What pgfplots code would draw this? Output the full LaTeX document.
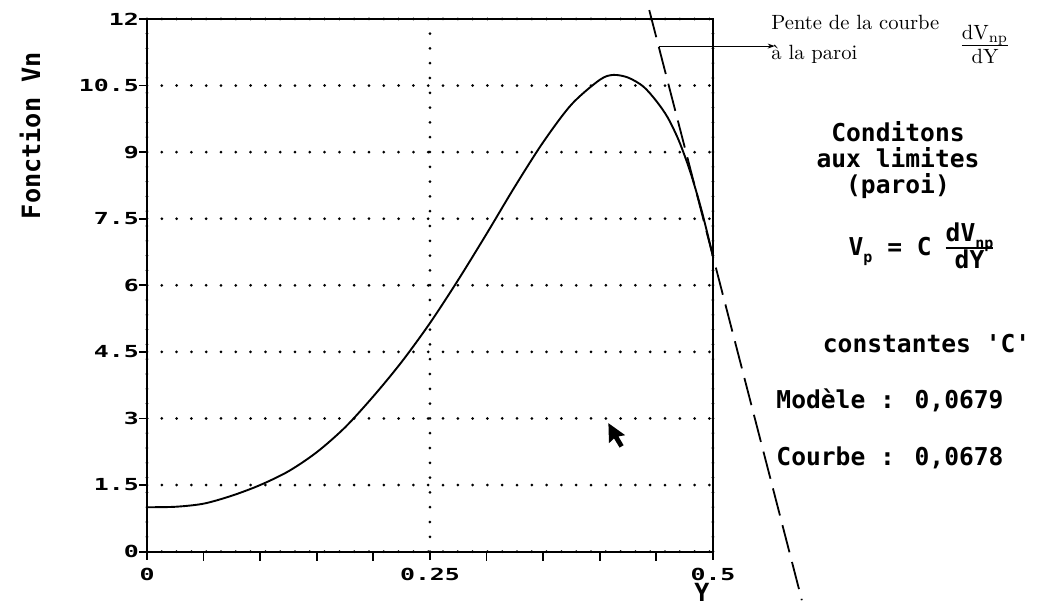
\documentclass[border=0pt]{standalone}
\usepackage{fontspec}
\usepackage{pgfplots}
\pgfplotsset{compat=1.18}
\usetikzlibrary{arrows.meta}
\newfontfamily\mono[Ligatures=TeXOff]{DejaVu Sans Mono}
\newcommand\ticfont{\mono\bfseries\fontsize{8.3}{9}\selectfont}
\newcommand\bigmono{\mono\bfseries\fontsize{12.3}{14}\selectfont}
\newcommand\submono[1]{\raisebox{-0.5ex}{\mono\bfseries\fontsize{7.5}{8}\selectfont #1}}
\begin{document}
\begin{tikzpicture}
\begin{axis}[
  at={(0,0)}, anchor=south west,
  width=283pt, height=266.3pt, scale only axis,
  xmin=0, xmax=0.5, ymin=0, ymax=12,
  clip=false,
  axis line style={line width=1.1pt},
  xtick={0,0.25,0.5}, xticklabels={0,0.25,0.5},
  minor xtick={0.05,0.1,0.15,0.2,0.3,0.35,0.4,0.45},
  ytick={0,1.5,3,4.5,6,7.5,9,10.5,12},
  yticklabels={0,1.5,3,4.5,6,7.5,9,10.5,12},
  xtick pos=bottom, ytick pos=left,
  tick align=outside, major tick length=4pt, minor tick length=4.5pt,
  tick style={line width=0.9pt, black},
  xmajorgrids, ymajorgrids,
  major grid style={black, line width=1.5pt, dash pattern=on 0pt off 7.4pt, line cap=round},
  tick label style={font=\ticfont, xscale=1.5},
  yticklabel style={xshift=3.5pt},
  xticklabel style={yshift=-1pt},
]
\addplot[black, line width=0.95pt, smooth] coordinates {
(0,1.0) (0.025,1.01) (0.05,1.08) (0.075,1.26) (0.1,1.50) (0.125,1.81)
(0.15,2.24) (0.175,2.80) (0.2,3.50) (0.225,4.275) (0.25,5.15) (0.275,6.125)
(0.3,7.16) (0.325,8.225) (0.35,9.225) (0.375,10.075) (0.4,10.63)
(0.412,10.74) (0.425,10.68) (0.4384,10.48) (0.45,10.15) (0.46,9.78)
(0.47,9.25) (0.48,8.55) (0.49,7.68) (0.5,6.65)
};
\addplot[black, line width=0.9pt, dash pattern=on 14pt off 5pt] coordinates {
(0.4437,12.2) (0.5785,-1.095)
};
\draw[line width=0.5pt, -{Stealth[length=3.5pt,width=2.5pt]}] (axis cs:0.4519,11.39) -- (axis cs:0.5545,11.39);
\end{axis}
% y label
\node[rotate=90, font=\mono\bfseries\fontsize{12.6}{14}\selectfont] at (-58.5pt,208pt) {Fonction Vn};
% x label
\node[font=\mono\bfseries\fontsize{12.5}{13}\selectfont, inner sep=0pt] at (277.5pt,-20.3pt) {Y};
% top annotation
\node[anchor=base west, font=\fontsize{10.3}{12}\selectfont, inner sep=0pt] at (312pt,261pt) {Pente de la courbe};
\node[anchor=base west, font=\fontsize{10.3}{12}\selectfont, inner sep=0pt] at (312pt,246pt) {à la paroi};
\node[font=\fontsize{10.3}{12}\selectfont, inner sep=0pt] at (419pt,252.5pt) {\setlength{\arrayrulewidth}{0.8pt}\begin{tabular}{@{}c@{}}dV\textsubscript{np}\\[-1pt]\hline dY\end{tabular}};
% right texts
\node[anchor=base, font=\bigmono, inner sep=0pt] at (375.5pt,204.8pt) {Conditons};
\node[anchor=base, font=\bigmono, inner sep=0pt] at (375.5pt,191.8pt) {aux limites};
\node[anchor=base, font=\bigmono, inner sep=0pt] at (375.5pt,179.1pt) {(paroi)};
\node[font=\bigmono, inner sep=0pt] at (387pt,151pt) {V\submono{p} = C\hspace{7pt}{\setlength{\arrayrulewidth}{1pt}\begin{tabular}{@{}c@{}}dV\submono{np}\\[-2pt]\hline dY\end{tabular}}};
\node[anchor=base, font=\bigmono, inner sep=0pt] at (389.8pt,99.8pt) {constantes 'C'};
\node[anchor=base, font=\bigmono, inner sep=0pt] at (371.5pt,71.8pt) {Modèle : 0,0679};
\node[anchor=base, font=\bigmono, inner sep=0pt] at (371.5pt,43.3pt) {Courbe : 0,0678};
% mouse cursor
\fill[black, shift={(230.7pt,64.2pt)}] (0,0) -- (0.3pt,-10pt) -- (2.8pt,-7.6pt) -- (5.6pt,-12.2pt) -- (7.6pt,-11pt) -- (5pt,-6.6pt) -- (8.4pt,-6pt) -- cycle;
\pgfresetboundingbox
\path (-73.5pt,-27.2pt) rectangle (454.5pt,275.8pt);
\end{tikzpicture}
\end{document}
